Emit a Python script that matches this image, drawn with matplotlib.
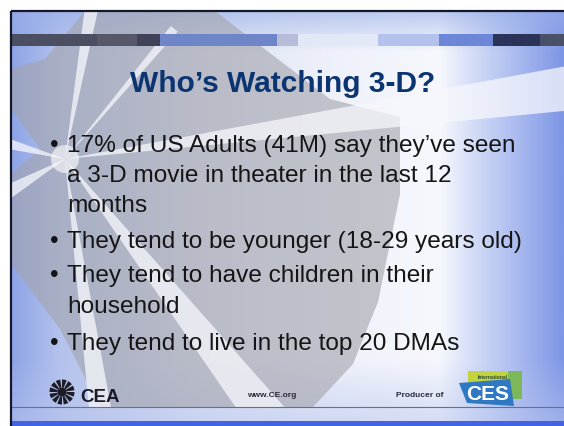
import numpy as np
import matplotlib
matplotlib.use("Agg")
import matplotlib.pyplot as plt
from matplotlib.patches import Polygon, Rectangle, Circle, Wedge

plt.rcParams["font.family"] = ["Liberation Sans", "DejaVu Sans"]

# slide content
title = "Who\u2019s Watching 3-D?"
bullets = [
    ["17% of US Adults (41M) say they\u2019ve seen",
     "a 3-D movie in theater in the last 12",
     "months"],
    ["They tend to be younger (18-29 years old)"],
    ["They tend to have children in their",
     "household"],
    ["They tend to live in the top 20 DMAs"],
]
footer_url = "www.CE.org"
footer_producer = "Producer of"

# layout (pixel coords, y down)
W, H = 564, 427
left, top = 11, 12
line_baselines = [[152, 182, 212], [248], [282, 313], [350]]
bar_segments = [
    (12, 97, "#4c4f62"), (97, 137, "#555868"), (137, 160, "#3f4259"),
    (160, 277, "#6e85c8"), (277, 298, "#b5bdd8"), (298, 378, "#e3e8f6"),
    (378, 439, "#b3c1ec"), (439, 493, "#6c87d8"), (493, 540, "#2b3359"),
    (540, 564, "#4b5069"),
]

fig = plt.figure(figsize=(W / 100, H / 100), dpi=100)
ax = fig.add_axes([0, 0, 1, 1])
ax.set_xlim(0, W)
ax.set_ylim(H, 0)
ax.axis("off")

# background gradient inside the frame
xs = np.linspace(left, W, 300)
ys = np.linspace(top, H, 240)
def hexrgb(c):
    return np.array([int(c[i:i + 2], 16) / 255 for i in (1, 3, 5)])
stops_x = [left, 60, 200, 330, 440, 490, W]
cols_x = ["#8ea4e6", "#b4c2ec", "#dde3f4", "#eef1fa", "#f6f8fd", "#c4d0f4", "#7e96e6"]
cx = np.array([hexrgb(c) for c in cols_x])
row = np.stack([np.interp(xs, stops_x, cx[:, k]) for k in range(3)], axis=-1)
img = np.repeat(row[None, :, :], len(ys), axis=0)
# bluer at top and bottom
topblue = hexrgb("#98aee8")
wt = np.clip(1 - (ys - top) / 40, 0, 1)[:, None, None] * 0.6
img = img * (1 - wt) + topblue * wt
botblue = hexrgb("#b8c4ee")
wb = np.clip((ys - 360) / 60, 0, 1)[:, None, None] * 0.5
img = img * (1 - wb) + botblue * wb
ax.imshow(img, extent=(left, W, H, top), aspect="auto", zorder=0, interpolation="bilinear")

clip = Rectangle((left, top), W - left, 408 - top, transform=ax.transData)

# gray starburst disc
disc = [(85, 12), (215, 12), (330, 100), (400, 118), (400, 195), (378, 303),
        (353, 365), (313, 408), (100, 408), (60, 330), (11, 265), (11, 175),
        (40, 150), (11, 110), (11, 70), (45, 60)]
p = Polygon(disc, closed=True, facecolor="#a2a3ab", edgecolor="none", alpha=0.6, zorder=1)
ax.add_patch(p)
p.set_clip_path(clip)

# white rays from focal point
C = (65, 160)
rays = [(-80, 5, 180), (-50, 3, 170), (-8, 5, 520),
        (52, 7, 400), (82, 5, 300), (150, 12, 90), (195, 10, 90)]
for ang, wdt, L in rays:
    a0 = np.radians(ang - wdt / 2)
    a1 = np.radians(ang + wdt / 2)
    tri = [C, (C[0] + L * np.cos(a0), C[1] + L * np.sin(a0)),
           (C[0] + L * np.cos(a1), C[1] + L * np.sin(a1))]
    r = Polygon(tri, closed=True, facecolor="#f7f8fd", edgecolor="none", alpha=0.75, zorder=2)
    ax.add_patch(r)
    r.set_clip_path(clip)
glow = Circle(C, 14, facecolor="white", edgecolor="none", alpha=0.6, zorder=2)
ax.add_patch(glow)

# top bar
for x0, x1, c in bar_segments:
    ax.add_patch(Rectangle((x0, 35), x1 - x0, 12, facecolor=c, edgecolor="none", zorder=3))

# frame border
ax.plot([left, left], [top, H], color="#15172a", lw=1.6, zorder=6, solid_capstyle="butt")
ax.plot([left, W], [top, top], color="#15172a", lw=1.6, zorder=6, solid_capstyle="butt")

# footer line and bottom band
ax.plot([left, W], [408, 408], color="#6d6f80", lw=0.8, zorder=4)
ax.add_patch(Rectangle((left, 422), W - left, 5, facecolor="#4263e4", edgecolor="none", zorder=4))

# title
ax.text(283, 92, title, ha="center", va="baseline", fontsize=21.5, fontweight="bold",
        color="#0b3470", zorder=5)

# bullets
for lines, bases in zip(bullets, line_baselines):
    ax.text(50, bases[0], "\u2022", ha="left", va="baseline", fontsize=17.6, color="#151515", zorder=5)
    for txt, b in zip(lines, bases):
        ax.text(67, b, txt, ha="left", va="baseline", fontsize=17.6, color="#151515", zorder=5)

# CEA logo
cc = (62, 393)
for k in range(12):
    a = k * 30
    ax.add_patch(Wedge(cc, 12.5, a, a + 22, width=8, facecolor="#1d1d28", edgecolor="none", zorder=5))
ax.add_patch(Circle(cc, 4.5, facecolor="#1d1d28", edgecolor="none", zorder=5))
ax.text(80, 402, "CEA", ha="left", va="baseline", fontsize=13.5, fontweight="bold",
        color="#1b1b2a", zorder=5)

# footer texts
ax.text(272, 397, footer_url, ha="center", va="baseline", fontsize=6, fontweight="bold",
        color="#2a2a3a", zorder=5)
ax.text(420, 397, footer_producer, ha="center", va="baseline", fontsize=6, fontweight="bold",
        color="#2a2a3a", zorder=5)

# CES logo
ax.add_patch(Rectangle((468, 372), 54, 28, facecolor="#c2d33e", edgecolor="none", zorder=5))
ax.add_patch(Rectangle((508, 372), 14, 28, facecolor="#7cb85a", edgecolor="none", zorder=5))
ax.text(493, 378, "International", ha="center", va="center", fontsize=3.6, fontweight="bold",
        color="#2c4a30", zorder=6)
ax.add_patch(Polygon([(459, 384), (510, 380), (514, 407), (467, 404)], closed=True,
                     facecolor="#2f78c4", edgecolor="none", zorder=6))
ax.text(488, 400, "CES", ha="center", va="baseline", fontsize=15, fontweight="bold",
        color="white", zorder=7)

fig.savefig("out.png", dpi=100)
